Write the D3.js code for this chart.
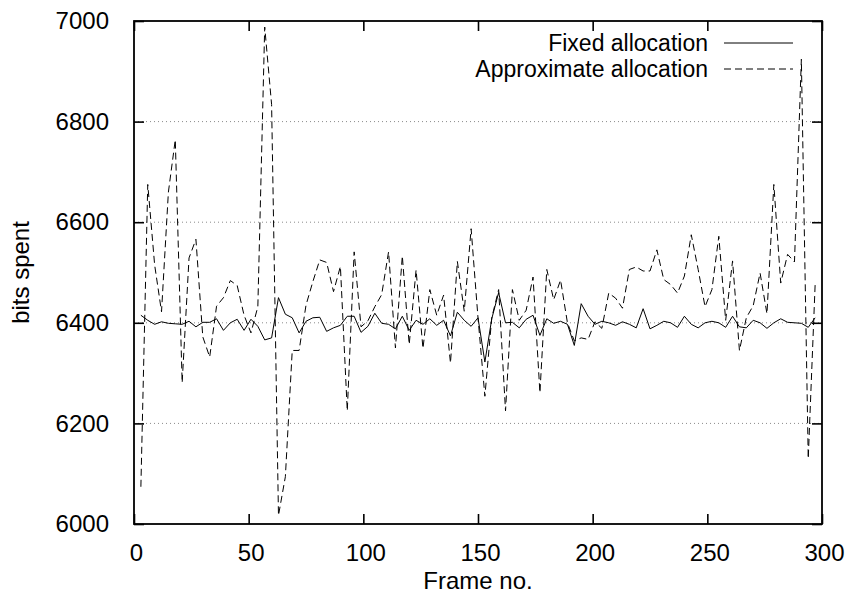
<!DOCTYPE html>
<html>
<head>
<meta charset="utf-8">
<script src="https://cdn.jsdelivr.net/npm/d3@7"></script>
<style>
  html, body { margin: 0; padding: 0; background: #fff; }
  svg { display: block; }
  text { font-family: "Liberation Sans", Arial, Helvetica, sans-serif; fill: #000; }
</style>
</head>
<body>
<svg id="chart" width="846" height="598"></svg>
<script>
// Frame numbers at which the bit counts were sampled
const frames = [
  3, 6, 9, 12, 15, 18, 21, 24, 27, 30,
  33, 36, 39, 42, 45, 48, 51, 54, 57, 60,
  63, 66, 69, 72, 75, 78, 81, 84, 87, 90,
  93, 96, 99, 102, 105, 108, 111, 114, 117, 120,
  123, 126, 129, 132, 135, 138, 141, 144, 147, 150,
  153, 156, 159, 162, 165, 168, 171, 174, 177, 180,
  183, 186, 189, 192, 195, 198, 201, 204, 207, 210,
  213, 216, 219, 222, 225, 228, 231, 234, 237, 240,
  243, 246, 249, 252, 255, 258, 261, 264, 267, 270,
  273, 276, 279, 282, 285, 288, 291, 294, 297
];

// Bits spent per frame, fixed allocation
const fixedBits = [
  6415, 6405, 6397, 6402, 6399, 6398, 6397, 6403, 6392, 6401,
  6401, 6408, 6385, 6400, 6407, 6385, 6407, 6393, 6366, 6370,
  6450, 6417, 6410, 6380, 6403, 6410, 6411, 6383, 6390, 6395,
  6413, 6413, 6381, 6393, 6419, 6399, 6397, 6388, 6413, 6385,
  6405, 6397, 6408, 6395, 6405, 6374, 6421, 6405, 6393, 6410,
  6322, 6408, 6460, 6400, 6401, 6390, 6407, 6415, 6375, 6408,
  6399, 6403, 6397, 6355, 6438, 6413, 6397, 6403, 6400, 6395,
  6402, 6397, 6390, 6428, 6388, 6395, 6403, 6400, 6391, 6413,
  6397, 6390, 6400, 6403, 6400, 6391, 6413, 6392, 6390, 6405,
  6400, 6389, 6400, 6408, 6401, 6400, 6399, 6391, 6410
];

// Bits spent per frame, approximate allocation
const approxBits = [
  6074, 6675, 6515, 6422, 6660, 6764, 6281, 6529, 6566, 6372,
  6332, 6433, 6450, 6484, 6474, 6415, 6380, 6432, 6988, 6834,
  6017, 6094, 6345, 6345, 6435, 6482, 6525, 6520, 6462, 6512,
  6225, 6541, 6392, 6404, 6432, 6456, 6541, 6350, 6533, 6357,
  6505, 6349, 6466, 6415, 6455, 6320, 6522, 6423, 6587, 6410,
  6254, 6410, 6466, 6225, 6466, 6405, 6425, 6491, 6261, 6506,
  6446, 6485, 6400, 6364, 6370, 6367, 6402, 6389, 6459, 6449,
  6429, 6506, 6511, 6503, 6503, 6545, 6486, 6476, 6459, 6493,
  6575, 6506, 6432, 6466, 6572, 6405, 6523, 6345, 6410, 6434,
  6499, 6418, 6675, 6479, 6536, 6521, 6924, 6130, 6475
];

const xTicks = [0, 50, 100, 150, 200, 250, 300];
const yTicks = [6000, 6200, 6400, 6600, 6800, 7000];
const seriesNames = ["Fixed allocation", "Approximate allocation"];

const svg = d3.select("#chart");
const plotLeft = 134, plotRight = 822, plotTop = 21, plotBottom = 524;
const fontSize = 24;
const legendFontSize = 23;

const x = d3.scaleLinear().domain([0, 300]).range([plotLeft, plotRight]);
const y = d3.scaleLinear().domain([6000, 7000]).range([plotBottom, plotTop]);

// dotted horizontal grid
svg.append("g")
  .selectAll("line")
  .data(yTicks.filter(v => v > 6000 && v < 7000))
  .join("line")
  .attr("x1", plotLeft).attr("x2", plotRight)
  .attr("y1", d => y(d)).attr("y2", d => y(d))
  .attr("stroke", "#8a8a8a")
  .attr("stroke-width", 1)
  .attr("stroke-dasharray", "1,3");

// axes with inward ticks and mirrored ticks on the opposite side
const tickLen = 10;
const axisBottom = d3.axisBottom(x).tickValues(xTicks).tickSize(-tickLen).tickPadding(tickLen + 10).tickFormat(d3.format("d"));
const axisTop = d3.axisTop(x).tickValues(xTicks).tickSize(-tickLen).tickFormat("");
const axisLeft = d3.axisLeft(y).tickValues(yTicks).tickSize(-tickLen).tickPadding(tickLen + 15).tickFormat(d3.format("d"));
const axisRight = d3.axisRight(y).tickValues(yTicks).tickSize(-tickLen).tickFormat("");

function styleAxis(g) {
  g.select(".domain").remove();
  g.selectAll(".tick line").attr("stroke", "#000").attr("stroke-width", 1.6);
  g.selectAll(".tick text").attr("font-size", fontSize).attr("fill", "#000")
    .style("font-family", '"Liberation Sans", Arial, sans-serif');
}

svg.append("g").attr("transform", `translate(0,${plotBottom})`).call(axisBottom).call(styleAxis)
  .selectAll(".tick text").attr("dx", 2);
svg.append("g").attr("transform", `translate(0,${plotTop})`).call(axisTop).call(styleAxis);
svg.append("g").attr("transform", `translate(${plotLeft},0)`).call(axisLeft).call(styleAxis);
svg.append("g").attr("transform", `translate(${plotRight},0)`).call(axisRight).call(styleAxis);

// data lines
const fixedData = frames.map((f, i) => [f, fixedBits[i]]);
const approxData = frames.map((f, i) => [f, approxBits[i]]);
const line = d3.line().x(d => x(d[0])).y(d => y(d[1]));

svg.append("path")
  .datum(fixedData)
  .attr("d", line)
  .attr("fill", "none")
  .attr("stroke", "#000")
  .attr("stroke-width", 1);

svg.append("path")
  .datum(approxData)
  .attr("d", line)
  .attr("fill", "none")
  .attr("stroke", "#000")
  .attr("stroke-width", 1)
  .attr("stroke-dasharray", "7,4");

// plot frame
svg.append("rect")
  .attr("x", plotLeft).attr("y", plotTop)
  .attr("width", plotRight - plotLeft).attr("height", plotBottom - plotTop)
  .attr("fill", "none")
  .attr("stroke", "#000")
  .attr("stroke-width", 1.8);

// legend: right-aligned labels with line samples to their right
const legend = svg.append("g");
const legendRows = [43, 69];
seriesNames.forEach((name, i) => {
  legend.append("text")
    .attr("x", 708).attr("y", legendRows[i])
    .attr("dy", "0.36em")
    .attr("text-anchor", "end")
    .attr("font-size", legendFontSize)
    .text(name);
  legend.append("line")
    .attr("x1", 724).attr("x2", 793)
    .attr("y1", legendRows[i]).attr("y2", legendRows[i])
    .attr("stroke", "#000")
    .attr("stroke-width", 1)
    .attr("stroke-dasharray", i === 1 ? "7,4" : null);
});

// axis titles
svg.append("text")
  .attr("x", (plotLeft + plotRight) / 2).attr("y", 589)
  .attr("text-anchor", "middle")
  .attr("font-size", fontSize)
  .text("Frame no.");

svg.append("text")
  .attr("transform", `translate(29,${(plotTop + plotBottom) / 2}) rotate(-90)`)
  .attr("text-anchor", "middle")
  .attr("font-size", fontSize)
  .text("bits spent");
</script>
</body>
</html>
